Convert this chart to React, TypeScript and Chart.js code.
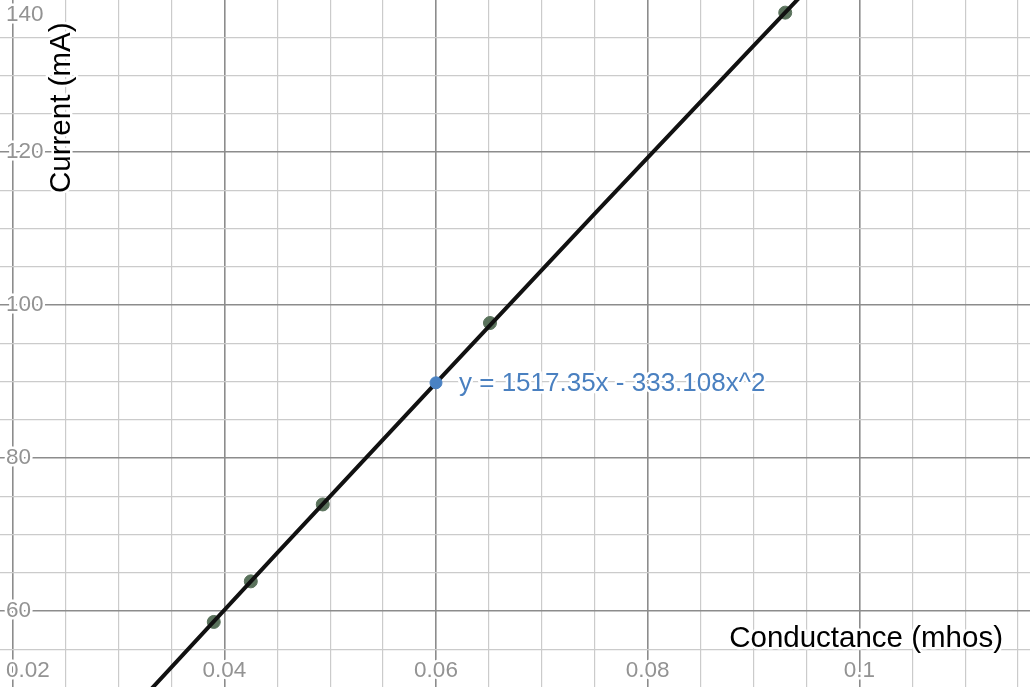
import { useEffect, useRef } from 'react'
import { Chart, registerables } from 'chart.js'

Chart.register(...registerables)

// measured values (conductance in mhos, current in mA)
const conductance = [0.0390, 0.0425, 0.0493, 0.0651, 0.0930]
const current = [58.6, 63.9, 73.95, 97.65, 138.2]

// regression curve
const fitX = [0.03, 0.045, 0.06, 0.075, 0.09, 0.105]
const fitY = [45.22, 67.61, 89.84, 111.93, 133.86, 155.65]

// highlighted point on the curve + its label
const markerX = [0.06]
const markerY = [89.84]
const markerLabel = 'y = 1517.35x - 333.108x^2'

const xTickLabels = ['0.02', '0.04', '0.06', '0.08', '0.1']
const yTickLabels = ['60', '80', '100', '120', '140']
const xTitle = 'Conductance (mhos)'
const yTitle = 'Current (mA)'

const FONT = '"Liberation Sans", Arial, sans-serif'

const isMajor = (v: number, step: number) => Math.abs(v / step - Math.round(v / step)) < 1e-6

// rebuild ticks so grid lines sit on round multiples only
const gridTicks = (step: number) => (scale: any) => {
  const out: { value: number }[] = []
  const start = Math.ceil(scale.min / step - 1e-9)
  const end = Math.floor(scale.max / step + 1e-9)
  for (let i = start; i <= end; i++) out.push({ value: +(i * step).toFixed(6) })
  scale.ticks = out
}

// desmos-style labels: drawn inside the plot with a white halo
const labelsPlugin = {
  id: 'desmosLabels',
  afterDraw(chart: any) {
    const { ctx } = chart
    const xs = chart.scales.x
    const ys = chart.scales.y
    const { left, right, top, bottom } = chart.chartArea
    ctx.save()
    ctx.lineJoin = 'round'
    ctx.strokeStyle = '#ffffff'
    ctx.lineWidth = 5
    const halo = (t: string, x: number, y: number) => {
      ctx.strokeText(t, x, y)
      ctx.fillText(t, x, y)
    }

    // tick labels
    ctx.font = `22.5px ${FONT}`
    ctx.fillStyle = '#939393'
    ctx.textAlign = 'center'
    ctx.textBaseline = 'alphabetic'
    xTickLabels.forEach(lbl => {
      const w = ctx.measureText(lbl).width
      let px = xs.getPixelForValue(Number(lbl))
      px = Math.min(Math.max(px, left + w / 2 + 6), right - w / 2 - 6)
      halo(lbl, px, bottom - 10)
    })
    ctx.textAlign = 'left'
    ctx.textBaseline = 'middle'
    yTickLabels.forEach(lbl => {
      let py = ys.getPixelForValue(Number(lbl))
      py = Math.min(Math.max(py, top + 15), bottom - 40)
      halo(lbl, left + 6, py)
    })

    // axis titles
    ctx.font = `29.5px ${FONT}`
    ctx.fillStyle = '#000000'
    ctx.textAlign = 'right'
    ctx.textBaseline = 'alphabetic'
    halo(xTitle, right - 27, bottom - 40)
    ctx.save()
    ctx.translate(left + 70, top + 193)
    ctx.rotate(-Math.PI / 2)
    ctx.textAlign = 'left'
    halo(yTitle, 0, 0)
    ctx.restore()

    // curve label
    ctx.font = `26px ${FONT}`
    ctx.fillStyle = '#4a80c0'
    ctx.textAlign = 'left'
    ctx.textBaseline = 'middle'
    halo(markerLabel, xs.getPixelForValue(markerX[0]) + 23, ys.getPixelForValue(markerY[0]) + 1)
    ctx.restore()
  }
}

const App = () => {
  const canvasRef = useRef<HTMLCanvasElement>(null)

  useEffect(() => {
    document.body.style.margin = '0'
    const ctx = canvasRef.current?.getContext('2d')
    if (!ctx) return

    const gridColor = (step: number) => (c: any) => isMajor(c.tick.value, step) ? '#8c8c8c' : '#cbcbcb'
    const gridWidth = (step: number) => (c: any) => isMajor(c.tick.value, step) ? 1.6 : 1.2

    const chart = new Chart(ctx, {
      type: 'scatter',
      data: {
        datasets: [
          {
            label: 'marker',
            data: markerX.map((x, i) => ({ x, y: markerY[i] })),
            backgroundColor: '#4a82c3',
            borderColor: '#4a82c3',
            pointRadius: 6,
            order: 0
          },
          {
            label: 'fit',
            data: fitX.map((x, i) => ({ x, y: fitY[i] })),
            showLine: true,
            borderColor: '#111111',
            borderWidth: 4,
            pointRadius: 0,
            order: 1
          },
          {
            label: 'measured',
            data: conductance.map((x, i) => ({ x, y: current[i] })),
            backgroundColor: '#5a725c',
            borderColor: '#5a725c',
            pointRadius: 6.5,
            order: 2
          }
        ]
      },
      options: {
        responsive: true,
        maintainAspectRatio: false,
        animation: false,
        layout: { padding: 0, autoPadding: false },
        plugins: {
          legend: { display: false },
          tooltip: { enabled: false }
        },
        scales: {
          x: {
            type: 'linear',
            min: 0.0188,
            max: 0.11613,
            afterBuildTicks: gridTicks(0.005),
            ticks: { display: false },
            border: { display: false },
            grid: { color: gridColor(0.02), lineWidth: gridWidth(0.02), drawTicks: false }
          },
          y: {
            type: 'linear',
            min: 50.1,
            max: 139.85,
            afterBuildTicks: gridTicks(5),
            ticks: { display: false },
            border: { display: false },
            grid: { color: gridColor(20), lineWidth: gridWidth(20), drawTicks: false }
          }
        }
      },
      plugins: [labelsPlugin]
    } as any)

    return () => chart.destroy()
  }, [])

  return (
    <div style={{ width: 1030, height: 687, position: 'relative', background: '#fff' }}>
      <canvas ref={canvasRef} />
    </div>
  )
}

export default App
